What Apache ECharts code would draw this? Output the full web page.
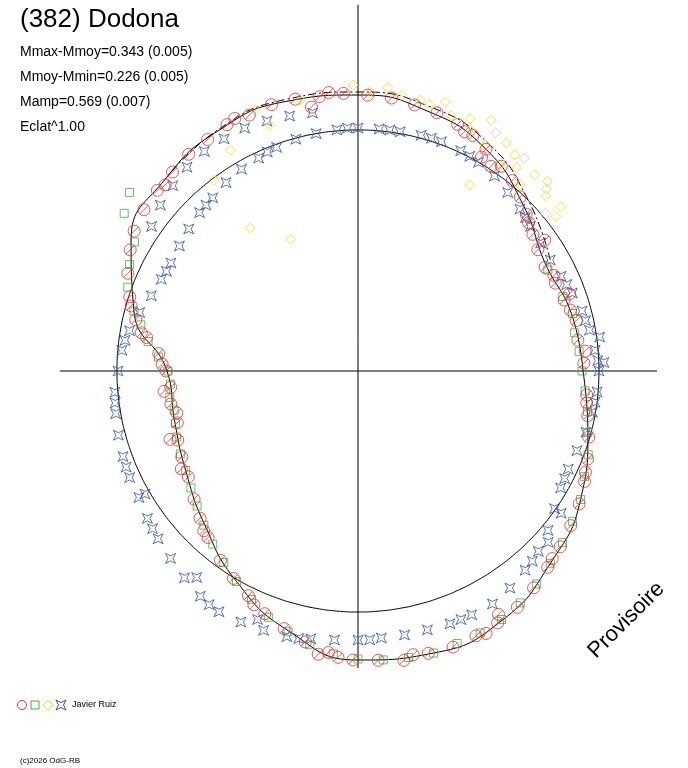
<!DOCTYPE html>
<html><head><meta charset="utf-8">
<script src="https://cdn.jsdelivr.net/npm/echarts@6/dist/echarts.min.js"></script>
<style>html,body{margin:0;padding:0;background:#fff}#c{width:688px;height:768px}</style>
</head><body><div id="c"></div>
<script>
// [angle deg (ccw from east), radius]
const redPts=[[2,226],[8,222],[13,224],[19,218],[24,216],[29,214],[34,217],[38,222],[43,230],[47,238],[51,245],[55,250],[60,256],[64,262],[68,266],[73,270],[78,272],[83,275],[88,276],[93,278],[98,277],[103,279],[108,280],[113,278],[118,279],[123,276],[128,275],[133,272],[138,270],[143,268],[148,264],[152,258],[157,250],[162,240],[167,228],[171,214],[175,200],[180,192],[185,188],[190,190],[196,188],[201,193],[206,196],[212,200],[218,208],[223,216],[228,224],[234,234],[239,242],[244,250],[249,260],[254,268],[259,276],[264,283],[269,289],[274,290],[279,293],[284,291],[289,292],[294,290],[299,288],[304,285],[309,279],[314,273],[319,268],[324,263],[329,258],[334,252],[339,246],[344,240],[349,234],[354,230],[100,268],[60,247],[35,228],[200,200],[57,244],[20,225],[170,220],[186,195],[262,286],[300,281],[5,228],[16,221],[26,218],[41,226],[66,262],[96,280],[116,281],[136,268],[164,236],[178,196],[193,186],[209,202],[226,222],[246,256],[266,287],[281,289],[296,292],[316,270],[336,249],[352,231]];
const bluePts=[[0,241],[5,238],[10,235],[15,232],[20,228],[25,224],[30,222],[35,223],[40,225],[45,229],[50,233],[55,238],[60,241],[65,243],[70,244],[75,244],[80,243],[85,243],[90,243],[95,242],[100,241],[105,240],[110,238],[115,235],[120,233],[125,230],[130,226],[135,224],[140,221],[145,218],[150,216],[155,217],[160,220],[165,226],[170,232],[175,237],[180,240],[185,244],[190,246],[195,248],[200,250],[205,252],[210,253],[215,257],[220,261],[225,265],[230,270],[235,275],[240,278],[245,277],[250,276],[255,275],[260,272],[265,270],[270,269],[275,268],[280,268],[285,268],[290,269],[295,269],[300,269],[305,265],[310,260],[315,255],[320,248],[325,240],[330,234],[335,232],[340,233],[345,236],[350,238],[355,240],[100,262],[105,264],[110,266],[115,268],[120,268],[125,268],[130,266],[135,262],[140,258],[145,252],[2,246],[8,244],[232,262],[248,268],[210,246],[325,248],[318,256],[2.5,240],[12.5,233],[22.5,226],[42.5,227],[62.5,242],[72.5,244],[82.5,243],[92.5,243],[112.5,237],[132.5,225],[152.5,216],[172.5,235],[187.5,245],[202.5,251],[217.5,259],[237.5,277],[257.5,274],[272.5,269],[292.5,269],[312.5,258],[332.5,233],[352.5,239]];
const greenPts=[[142,290],[146,282],[150,258],[155,252],[160,245],[165,232],[168,222],[172,212],[176,200],[180,190],[184,188],[188,190],[192,188],[196,190],[200,193],[205,196],[210,199],[215,204],[220,210],[225,218],[230,226],[235,234],[240,243],[245,252],[250,262],[255,270],[260,278],[265,284],[270,288],[275,290],[280,291],[285,292],[290,290],[295,289],[300,287],[305,283],[310,278],[315,272],[320,267],[325,262],[330,257],[335,250],[340,245],[345,238],[350,233],[355,228],[0,224],[5,222],[10,220],[15,222],[20,218],[28,215]];
const yellowPts=[[87.5,279],[81,279],[77,278],[70,272],[65,266],[60.7,259],[55.4,250],[54,267],[49,247],[48,264],[43,257],[38,251],[39,261],[62,284],[75,276],[111.5,281],[109.7,261],[120,255],[127,239],[102,277],[127,179],[117,148],[59,217],[84,285],[72,283],[66,276],[52,258],[45,268],[57,272],[91,286]];
const grayPts=[[60,275],[44,262],[40,245],[52,270]];
const fitAngles=[0,15,30,45,60,75,90,105,120,135,150,165,180,195,210,225,240,255,270,285,300,315,330,345,360];
const fitRadius=[225,221,216,234,256,269,276,279,278,272,262,232,191,190,199,217,243,269,289,292,288,272,257,238,225];
const dashAngles=[30,45,60,75,90,105,120,135];
const dashRadius=[222,241,262,274,279,281,279,272];
const refCircleRadius=241;
const circleAngles=[0,5,10,15,20,25,30,35,40,45,50,55,60,65,70,75,80,85,90,95,100,105,110,115,120,125,130,135,140,145,150,155,160,165,170,175,180,185,190,195,200,205,210,215,220,225,230,235,240,245,250,255,260,265,270,275,280,285,290,295,300,305,310,315,320,325,330,335,340,345,350,355,360];

const chart=echarts.init(document.getElementById('c'));
const circlePath='path://M10,0A10,10,0,1,1,9.99,0ZM3,17L17,3';
const starPath='path://M0,0L10,5L20,0L15,10L20,20L10,15L0,20L5,10Z';
const toPolar=p=>[p[1],p[0]]; // ECharts polar data: [radius, angle]
function sc(name,data,symbol,size,color){return {type:'scatter',coordinateSystem:'polar',name,data:data.map(toPolar),symbol,symbolSize:size,itemStyle:{color:'rgba(0,0,0,0)',borderColor:color,borderWidth:1},silent:true,z:3};}
function ln(angles,radii,style){return {type:'line',coordinateSystem:'polar',data:angles.map((a,i)=>[Array.isArray(radii)?radii[i]:radii,a]),smooth:true,symbol:'none',lineStyle:style,silent:true,z:2};}
chart.setOption({
 animation:false,
 polar:{center:[358,371],radius:300},
 angleAxis:{type:'value',min:0,max:360,startAngle:0,clockwise:false,show:false,splitLine:{show:false}},
 radiusAxis:{type:'value',min:0,max:300,show:false,splitLine:{show:false}},
 graphic:[
  {type:'line',shape:{x1:60,y1:371,x2:657,y2:371},style:{stroke:'#000',lineWidth:1}},
  {type:'line',shape:{x1:358,y1:5,x2:358,y2:668},style:{stroke:'#000',lineWidth:1}},
  {type:'text',left:20,top:7,style:{text:'(382) Dodona',font:'26px Arial, "Liberation Sans"',fill:'#000'}},
  {type:'text',left:20,top:40,style:{text:'Mmax-Mmoy=0.343 (0.005)\nMmoy-Mmin=0.226 (0.005)\nMamp=0.569 (0.007)\nEclat^1.00',font:'14px Arial, "Liberation Sans"',lineHeight:25,fill:'#000'}},
  {type:'text',x:584,y:647,rotation:Math.PI/4,style:{text:'Provisoire',font:'22px Arial, "Liberation Sans"',fill:'#000'}},
  {type:'circle',shape:{cx:22,cy:705,r:4.5},style:{fill:'none',stroke:'#e03030'}},
  {type:'rect',shape:{x:31,y:701,width:8,height:8},style:{fill:'none',stroke:'#40b040'}},
  {type:'polygon',shape:{points:[[48,700],[53,705],[48,710],[43,705]]},style:{fill:'none',stroke:'#f0e000'}},
  {type:'polygon',shape:{points:[[56,700],[61,702.5],[66,700],[63.5,705],[66,710],[61,707.5],[56,710],[58.5,705]]},style:{fill:'none',stroke:'#3050a0'}},
  {type:'text',left:72,top:700,style:{text:'Javier Ruiz',font:'9px Arial, "Liberation Sans"',fill:'#000'}},
  {type:'text',left:20,top:757,style:{text:'(c)2026 OdG-RB',font:'8px Arial, "Liberation Sans"',fill:'#000'}}
 ],
 series:[
  ln(circleAngles,refCircleRadius,{color:'#000',width:1}),
  ln(fitAngles,fitRadius,{color:'#000',width:1}),
  ln(dashAngles,dashRadius,{color:'#000',width:1,type:[8,3,2,3]}),
  sc('blue',bluePts,starPath,10,'#3050a0'),
  sc('gray',grayPts,'diamond',10,'#c8c8c8'),
  sc('yellow',yellowPts,'diamond',10,'#f0e000'),
  sc('green',greenPts,'rect',8,'#40b040'),
  sc('red',redPts,circlePath,12,'#e03030')
 ]
});
</script></body></html>
